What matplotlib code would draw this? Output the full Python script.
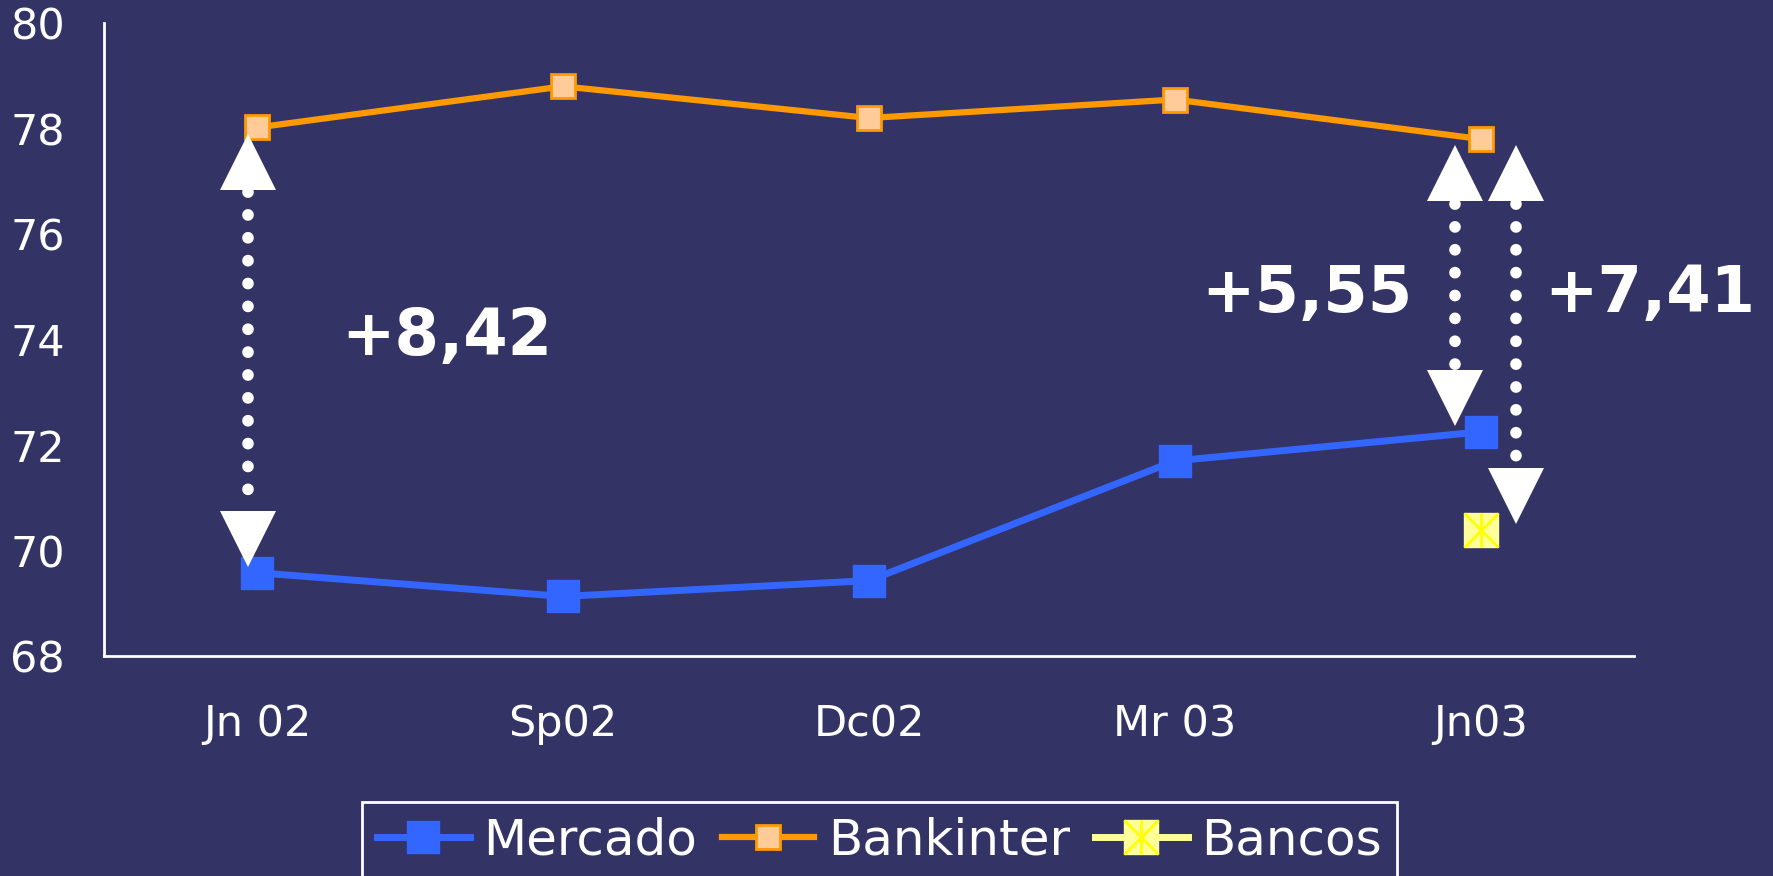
import numpy as np
import matplotlib
matplotlib.use("Agg")
import matplotlib.pyplot as plt

# data
periods = ["Jn 02", "Sp02", "Dc02", "Mr 03", "Jn03"]
mercado = [69.58, 69.13, 69.43, 71.70, 72.25]
bankinter = [78.02, 78.80, 78.20, 78.55, 77.80]
bancos = [70.39]          # only the last period
yticks = [68, 70, 72, 74, 76, 78, 80]

# gap annotations: (category index, x shift, top value, bottom value, label, label x, label y)
gaps = [
    (0, -0.03, bankinter[0], mercado[0], "+8,42", 0.62, 74.05),
    (4, -0.085, bankinter[4], mercado[4], "+5,55", 3.43, 74.87),
    (4, 0.115, bankinter[4], bancos[0], "+7,41", 4.55, 74.87),
]

bg = "#333366"
fig = plt.figure(figsize=(17.73, 8.76), dpi=100, facecolor=bg)
ax = fig.add_axes([0.0587, 0.2511, 0.8629, 0.7226])
ax.set_facecolor(bg)

x = np.arange(len(periods))
l1, = ax.plot(x, mercado, color="#3366FF", lw=5, marker="s", ms=23,
              mfc="#3366FF", mec="#3366FF", label="Mercado", zorder=3)
l2, = ax.plot(x, bankinter, color="#FF9900", lw=4.5, marker="s", ms=17,
              mfc="#FFCC99", mec="#FF9900", mew=2, label="Bankinter", zorder=3)
bx = [x[-1]]
l3, = ax.plot(bx, bancos, color="#FFFF99", lw=5, marker="s", ms=25,
              mfc="#FFFF99", mec="#FFFF99", zorder=3)
l3x, = ax.plot(bx, bancos, ls="none", marker="x", ms=25, mec="#FFFF00", mew=2, zorder=4)
l3v, = ax.plot(bx, bancos, ls="none", marker="|", ms=25, mec="#FFFF00", mew=2, zorder=4)

ax.set_xlim(-0.5, len(periods) - 0.5)
ax.set_ylim(68, 80)
ax.set_xticks(x)
ax.set_xticklabels(periods)
ax.set_yticks(yticks)
ax.tick_params(length=0, colors="white", labelsize=31)
ax.tick_params(axis="x", pad=34)
ax.tick_params(axis="y", pad=28)
for s in ["top", "right"]:
    ax.spines[s].set_visible(False)
for s in ["left", "bottom"]:
    ax.spines[s].set_color("white")
    ax.spines[s].set_linewidth(2)

# size of the triangle heads in data units
px_unit = ax.transData.transform((0, 1))[1] - ax.transData.transform((0, 0))[1]
tri_pt = 40
tri_h = tri_pt * fig.dpi / 72 / px_unit
gap = 0.12

for i, dx, top, bot, txt, tx, ty in gaps:
    xa = x[i] + dx
    up_c = top - gap - tri_h / 2
    dn_c = bot + gap + tri_h / 2
    ax.plot([xa, xa], [up_c - tri_h / 2 - 0.05, dn_c + tri_h / 2],
            color="white", lw=8.4, ls=(0, (0.01, 1.95)), dash_capstyle="round", zorder=5)
    ax.plot([xa], [up_c], marker="^", ms=tri_pt, color="white", mew=0, zorder=6)
    ax.plot([xa], [dn_c], marker="v", ms=tri_pt, color="white", mew=0, zorder=6)
    ax.text(tx, ty, txt, color="white", fontsize=46, fontweight="bold",
            ha="center", va="center", zorder=7)

leg = fig.legend([l1, l2, (l3, l3x, l3v)], ["Mercado", "Bankinter", "Bancos"],
                 loc="upper center", bbox_to_anchor=(0.496, 0.0845), ncol=3,
                 fontsize=36, frameon=True, fancybox=False, facecolor=bg,
                 edgecolor="white", framealpha=1, handlelength=1.85,
                 handletextpad=0.27, columnspacing=0.5, borderpad=0.3,
                 borderaxespad=0, labelcolor="white")
leg.get_frame().set_linewidth(2)

fig.savefig("out.png", dpi=100, facecolor=bg)
